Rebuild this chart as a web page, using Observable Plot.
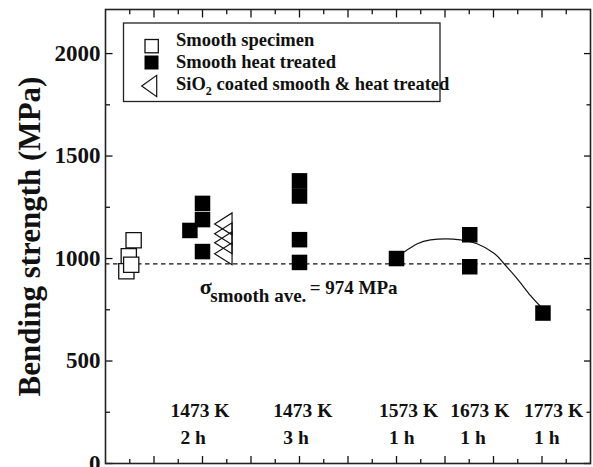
<!DOCTYPE html>
<html><head><meta charset="utf-8">
<script src="https://cdn.jsdelivr.net/npm/d3@7"></script>
<script src="https://cdn.jsdelivr.net/npm/@observablehq/plot@0.6"></script>
<style>body{margin:0;background:#fff}</style>
</head><body><div id="chart"></div>
<script>
// ---- data ----
const smoothPos = [0.58, 0.48, 0.43, 0.53];
const smoothVal = [1089, 1011, 938, 970];
const heatPos = [1.74, 2.0, 2.0, 2.0, 4.0, 4.0, 4.0, 4.0, 6.0, 7.51, 7.51, 9.02];
const heatVal = [1137, 1269, 1190, 1034, 1379, 1305, 1092, 981, 1000, 1116, 960, 734];
const coatedPos = [2.43, 2.43, 2.43, 2.43];
const coatedVal = [1169, 1121, 1077, 1023];
const fitPos = [6.15, 6.43, 6.70, 7.03, 7.32, 7.66, 8.01, 8.21, 8.49, 8.76, 8.97];
const fitVal = [1031, 1072, 1091, 1096, 1091, 1072, 1026, 977, 901, 820, 766];
const smoothAve = 974;
const condTemp = ["1473 K", "1473 K", "1573 K", "1673 K", "1773 K"];
const condTime = ["2 h", "3 h", "1 h", "1 h", "1 h"];
const condPos = [1.34, 3.46, 5.64, 7.11, 8.63];
const yMajor = [0, 500, 1000, 1500, 2000];
const yMinor = [250, 750, 1250, 1750];
const xMajor = [1, 2, 3, 4, 5, 6, 7, 8, 9];
const xMinor = [0.5, 1.5, 2.5, 3.5, 4.5, 5.5, 6.5, 7.5, 8.5, 9.5];
const legendLabels = ["Smooth specimen", "Smooth heat treated", "SiO2 coated smooth & heat treated"];

const toRows = (xs, ys) => xs.map((x, i) => ({x, y: ys[i]}));
const smooth = toRows(smoothPos, smoothVal);
const heat = toRows(heatPos, heatVal);
const coated = toRows(coatedPos, coatedVal);
const fit = toRows(fitPos, fitVal);

const triLeft = {draw(ctx, size) {
  const r = Math.sqrt(size / Math.PI);
  ctx.moveTo(-r, 0); ctx.lineTo(r, -1.26 * r); ctx.lineTo(r, 1.26 * r); ctx.closePath();
}};

const FONT = "'Liberation Serif','Times New Roman',serif";
const ink = "#111";

const plot = Plot.plot({
  width: 593, height: 467,
  marginLeft: 105, marginRight: 3, marginTop: 9, marginBottom: 4,
  style: {fontFamily: FONT, color: ink, background: "#fff"},
  x: {domain: [0, 10]},
  y: {domain: [0, 2215]},
  marks: [
    Plot.ruleY([smoothAve], {stroke: ink, strokeWidth: 1.2, strokeDasharray: "4.5,3.5"}),
    Plot.line(fit, {x: "x", y: "y", curve: "natural", stroke: ink, strokeWidth: 1.2}),
    Plot.dot(smooth, {x: "x", y: "y", symbol: "square", r: 8.6, fill: "white", stroke: ink, strokeWidth: 1.3}),
    Plot.dot(heat, {x: "x", y: "y", symbol: "square", r: 8.75, fill: "black", stroke: "none"}),
    Plot.dot(coated, {x: "x", y: "y", symbol: triLeft, r: 8.7, fill: "none", stroke: ink, strokeWidth: 1.2}),
    Plot.text(condTemp, {x: (d, i) => condPos[i], y: 226, text: d => d, textAnchor: "start", lineAnchor: "bottom", fontSize: 19.5, fontWeight: "bold", fill: ink}),
    Plot.text(condTime, {x: (d, i) => condPos[i], y: 96, dx: 10, text: d => d, textAnchor: "start", lineAnchor: "bottom", fontSize: 19.5, fontWeight: "bold", fill: ink}),
    Plot.text(["σ"], {x: 1.945, y: 828, textAnchor: "start", lineAnchor: "bottom", fontSize: 22, fontWeight: "bold", fill: ink}),
    Plot.text(["smooth ave."], {x: 2.16, y: 787, textAnchor: "start", lineAnchor: "bottom", fontSize: 19, fontWeight: "bold", fill: ink}),
    Plot.text([`= ${smoothAve} MPa`], {x: 4.21, y: 828, textAnchor: "start", lineAnchor: "bottom", fontSize: 19, fontWeight: "bold", fill: ink}),
    // axes: inward ticks on all four sides
    Plot.axisY(yMajor, {anchor: "left", tickSize: 0, tickPadding: 5, tickFormat: d => String(d), fontSize: 23, fontWeight: "bold", fill: ink, label: null}),
    Plot.axisY(yMajor, {anchor: "left", tickSize: -7.5, fill: "none", stroke: ink, strokeWidth: 1.3, label: null}),
    Plot.axisY(yMinor, {anchor: "left", tickSize: -5, fill: "none", stroke: ink, strokeWidth: 1.3, label: null}),
    Plot.axisY(yMajor, {anchor: "right", tickSize: -7, fill: "none", stroke: ink, strokeWidth: 1.3, label: null}),
    Plot.axisY(yMinor, {anchor: "right", tickSize: -4.5, fill: "none", stroke: ink, strokeWidth: 1.3, label: null}),
    Plot.axisX(xMajor, {anchor: "top", tickSize: -7.5, fill: "none", stroke: ink, strokeWidth: 1.3, label: null}),
    Plot.axisX(xMinor, {anchor: "top", tickSize: -4.3, fill: "none", stroke: ink, strokeWidth: 1.3, label: null}),
    Plot.axisX(xMajor, {anchor: "bottom", tickSize: -7, fill: "none", stroke: ink, strokeWidth: 1.3, label: null}),
    Plot.axisX(xMinor, {anchor: "bottom", tickSize: -4, fill: "none", stroke: ink, strokeWidth: 1.3, label: null}),
    Plot.frame({stroke: "#222", strokeWidth: 1.6}),
    Plot.text(["Bending strength (MPa)"], {frameAnchor: "left", dx: -75, rotate: -90, textAnchor: "middle", lineAnchor: "middle", fontSize: 31, fontWeight: "bold", fill: ink})
  ]
});
document.getElementById("chart").appendChild(plot);

// ---- legend ----
const svg = d3.select(plot);
const lg = svg.append("g").attr("font-family", FONT).attr("font-weight", "bold").attr("font-size", 18.5)
  .attr("fill", ink).attr("text-anchor", "start").style("text-anchor", "start");
lg.append("rect").attr("x", 123.5).attr("y", 23).attr("width", 316.5).attr("height", 78.5)
  .attr("fill", "white").attr("stroke", "#222").attr("stroke-width", 1.3);
lg.append("rect").attr("x", 145).attr("y", 39.5).attr("width", 13.3).attr("height", 13.3)
  .attr("fill", "white").attr("stroke", ink).attr("stroke-width", 1.3);
lg.append("rect").attr("x", 144.5).attr("y", 55.5).attr("width", 14).attr("height", 14).attr("fill", "black");
lg.append("path").attr("d", "M141.7,86 L156.7,75.3 L156.7,96.7 Z").attr("fill", "none").attr("stroke", ink).attr("stroke-width", 1.2);
lg.append("text").attr("x", 176).attr("y", 45.5).text(legendLabels[0]);
lg.append("text").attr("x", 176).attr("y", 68).text(legendLabels[1]);
const t3 = lg.append("text").attr("x", 176).attr("y", 89.5);
const m = legendLabels[2].match(/^(SiO)(2)(.*)$/);
t3.append("tspan").text(m[1]);
t3.append("tspan").attr("dy", 5).attr("font-size", 12).text(m[2]);
t3.append("tspan").attr("dy", -5).text(m[3]);
</script></body></html>
